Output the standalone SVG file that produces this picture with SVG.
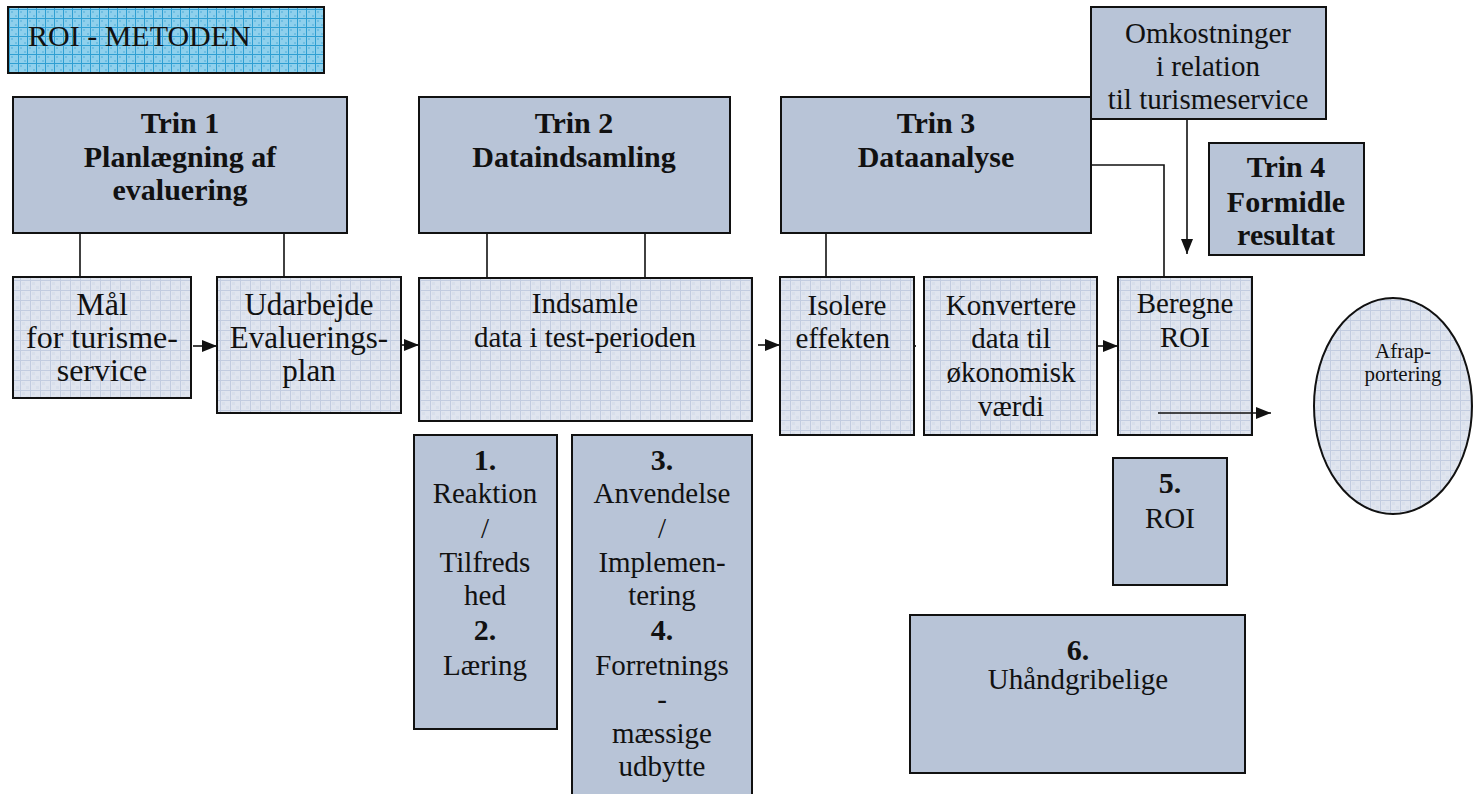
<svg xmlns="http://www.w3.org/2000/svg" width="1473" height="794" viewBox="0 0 1473 794" font-family="'Liberation Serif', 'Times New Roman', serif">
<style>
text{font-family:"Liberation Serif","Times New Roman",serif;fill:#111;text-anchor:middle}
.b{font-weight:bold;font-size:30px}
.r{font-size:29px}
.dark{fill:#b8c4d7;stroke:#111;stroke-width:2}
.light{fill:url(#grid);stroke:#111;stroke-width:2}
.ln{stroke:#111;stroke-width:1.6;fill:none}
.ar{stroke:#111;stroke-width:1.6;fill:none;marker-end:url(#ah)}
</style>
<defs>
<pattern id="grid" width="10" height="10" patternUnits="userSpaceOnUse">
<rect width="10" height="10" fill="#e0e5ef"/>
<rect x="2" y="2" width="3" height="3" fill="#d8dfeb"/>
<rect x="6" y="6" width="3" height="3" fill="#d8dfeb"/>
<path d="M0 0.5H10M0.5 0V10" stroke="#c2cce0" stroke-width="1"/>
</pattern>
<pattern id="blue" width="9" height="9" patternUnits="userSpaceOnUse">
<rect width="9" height="9" fill="#8fd0ec"/>
<rect x="2" y="2" width="2" height="2" fill="#6fbfe3"/>
<rect x="6" y="6" width="2" height="2" fill="#6fbfe3"/>
<path d="M0 0.5H9M0.5 0V9" stroke="#2f9fd2" stroke-width="1"/>
</pattern>
<marker id="ah" markerUnits="userSpaceOnUse" markerWidth="16" markerHeight="14" refX="15" refY="7" orient="auto">
<path d="M0 1L15 7L0 13Z" fill="#111"/>
</marker>
</defs>

<g id="title">
<rect x="8" y="7" width="316" height="66" fill="url(#blue)" stroke="#111" stroke-width="2"/>
<text x="28" y="46" style="text-anchor:start;font-size:30px">ROI - METODEN</text>
</g>

<g id="connectors">
<line class="ln" x1="80" y1="233" x2="80" y2="277"/>
<line class="ln" x1="284" y1="233" x2="284" y2="277"/>
<line class="ln" x1="487" y1="233" x2="487" y2="278"/>
<line class="ln" x1="645" y1="233" x2="645" y2="278"/>
<line class="ln" x1="826" y1="233" x2="826" y2="277"/>
<line class="ar" x1="193" y1="346" x2="217" y2="346"/>
<line class="ar" x1="401" y1="345" x2="419" y2="345"/>
<line class="ar" x1="758" y1="345" x2="780" y2="345"/>
<line class="ar" x1="892" y1="346" x2="916" y2="346"/>
<line class="ar" x1="1097" y1="346" x2="1118" y2="346"/>
<polyline class="ln" points="1073,165 1164,165 1164,277"/>
<line class="ar" x1="1187" y1="119" x2="1187" y2="254"/>
</g>

<g id="trin1">
<rect class="dark" x="13" y="97" width="334" height="136"/>
<text class="b" x="180" y="133">Trin 1</text>
<text class="b" x="180" y="167">Planlægning af</text>
<text class="b" x="180" y="200">evaluering</text>
</g>

<g id="trin2">
<rect class="dark" x="419" y="97" width="311" height="136"/>
<text class="b" x="574" y="133">Trin 2</text>
<text class="b" x="574" y="167">Dataindsamling</text>
</g>

<g id="trin3">
<rect class="dark" x="781" y="97" width="310" height="136"/>
<text class="b" x="936" y="133">Trin 3</text>
<text class="b" x="936" y="167">Dataanalyse</text>
</g>

<g id="omkostninger">
<rect class="dark" x="1091" y="7" width="235" height="112"/>
<text class="r" x="1208" y="43">Omkostninger</text>
<text class="r" x="1208" y="76">i relation</text>
<text class="r" x="1208" y="109">til turismeservice</text>
</g>

<g id="trin4">
<rect class="dark" x="1209" y="143" width="155" height="112"/>
<text class="b" x="1286" y="177">Trin 4</text>
<text class="b" x="1286" y="212">Formidle</text>
<text class="b" x="1286" y="245">resultat</text>
</g>

<g id="maal">
<rect class="light" x="13" y="277" width="178" height="121"/>
<text x="102" y="315" style="font-size:32px">Mål</text>
<text x="102" y="348" style="font-size:32px">for turisme-</text>
<text x="102" y="381" style="font-size:32px">service</text>
</g>

<g id="udarbejde">
<rect class="light" x="217" y="277" width="184" height="136"/>
<text x="309" y="315" style="font-size:31px">Udarbejde</text>
<text x="309" y="348" style="font-size:31px">Evaluerings-</text>
<text x="309" y="381" style="font-size:31px">plan</text>
</g>

<g id="indsamle">
<rect class="light" x="419" y="278" width="333" height="143"/>
<text class="r" x="585" y="313">Indsamle</text>
<text class="r" x="585" y="347">data i test-perioden</text>
</g>

<g id="isolere">
<rect class="light" x="780" y="277" width="134" height="158"/>
<text class="r" x="847" y="315">Isolere</text>
<text class="r" x="890" y="348" style="text-anchor:end">effekten</text>
</g>

<g id="konvertere">
<rect class="light" x="924" y="277" width="173" height="158"/>
<text class="r" x="1011" y="315">Konvertere</text>
<text class="r" x="1011" y="348">data til</text>
<text class="r" x="1011" y="382">økonomisk</text>
<text class="r" x="1011" y="416">værdi</text>
</g>

<g id="beregne">
<rect class="light" x="1118" y="277" width="134" height="158"/>
<text class="r" x="1185" y="313">Beregne</text>
<text class="r" x="1185" y="347">ROI</text>
</g>

<g id="beregne-arrow">
<line class="ar" x1="1158" y1="413" x2="1271" y2="413"/>
</g>

<g id="afrapportering">
<ellipse cx="1393" cy="406" rx="79" ry="108" fill="url(#grid)" stroke="#111" stroke-width="2"/>
<text x="1403" y="358" style="font-size:21px">Afrap-</text>
<text x="1403" y="381" style="font-size:21px">portering</text>
</g>

<g id="niveau12">
<rect class="dark" x="414" y="435" width="143" height="294"/>
<text class="b" x="485" y="470">1.</text>
<text class="r" x="485" y="503">Reaktion</text>
<text class="r" x="485" y="538">/</text>
<text class="r" x="485" y="572">Tilfreds</text>
<text class="r" x="485" y="605">hed</text>
<text class="b" x="485" y="640">2.</text>
<text class="r" x="485" y="675">Læring</text>
</g>

<g id="niveau34">
<rect class="dark" x="572" y="435" width="180" height="370"/>
<text class="b" x="662" y="470">3.</text>
<text class="r" x="662" y="503">Anvendelse</text>
<text class="r" x="662" y="538">/</text>
<text class="r" x="662" y="572">Implemen-</text>
<text class="r" x="662" y="605">tering</text>
<text class="b" x="662" y="640">4.</text>
<text class="r" x="662" y="675">Forretnings</text>
<text class="r" x="662" y="709">-</text>
<text class="r" x="662" y="743">mæssige</text>
<text class="r" x="662" y="776">udbytte</text>
</g>

<g id="niveau5">
<rect class="dark" x="1113" y="458" width="114" height="127"/>
<text class="b" x="1170" y="493">5.</text>
<text class="r" x="1170" y="528">ROI</text>
</g>

<g id="niveau6">
<rect class="dark" x="910" y="615" width="335" height="158"/>
<text class="b" x="1078" y="660">6.</text>
<text class="r" x="1078" y="689">Uhåndgribelige</text>
</g>
</svg>
